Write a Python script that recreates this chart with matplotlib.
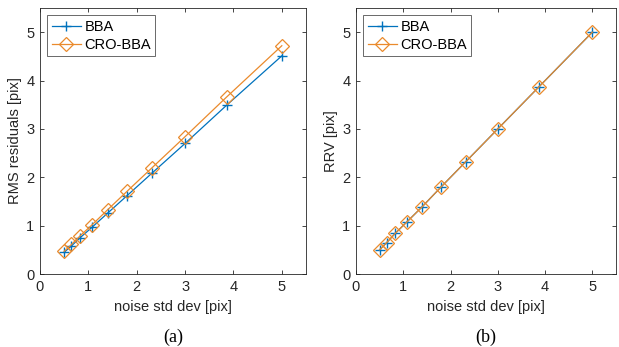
import matplotlib
matplotlib.use("Agg")
import matplotlib.pyplot as plt

noise = [0.5, 0.65, 0.83, 1.08, 1.4, 1.8, 2.32, 3.0, 3.87, 5.0]
rms_bba = [0.45, 0.58, 0.75, 0.97, 1.26, 1.62, 2.09, 2.70, 3.50, 4.51]
rms_cro = [0.47, 0.61, 0.79, 1.02, 1.33, 1.71, 2.20, 2.84, 3.67, 4.72]
rrv_bba = [0.50, 0.65, 0.84, 1.08, 1.39, 1.80, 2.32, 3.00, 3.87, 5.00]
rrv_cro = [0.50, 0.65, 0.84, 1.08, 1.39, 1.80, 2.32, 3.00, 3.87, 5.00]
ticks = [0, 1, 2, 3, 4, 5]
ylabels = ["RMS residuals [pix]", "RRV [pix]"]
captions = ["(a)", "(b)"]

blue = "#0072BD"
orange = "#EA8A2C"

plt.rcParams['font.family'] = ['Liberation Sans', 'DejaVu Sans']
fig = plt.figure(figsize=(6.19, 3.47), dpi=100)
W, H = 619, 347
boxes = [(40, 8, 306, 274), (356, 8, 616, 274)]
data = [(rms_bba, rms_cro), (rrv_bba, rrv_cro)]

for i, (l, t, r, b) in enumerate(boxes):
    ax = fig.add_axes([l / W, 1 - b / H, (r - l) / W, (b - t) / H])
    yb, yc = data[i]
    ax.plot(noise, yb, color=blue, lw=0.9, marker='+', ms=7, mew=1.0, label='BBA', zorder=2)
    ax.plot(noise, yc, color=orange, lw=0.9, marker='D', ms=7.2, mfc='none', mew=0.9,
            label='CRO-BBA', zorder=3)
    ax.set_xlim(0, 5.5)
    ax.set_ylim(0, 5.5)
    ax.set_xticks(ticks)
    ax.set_yticks(ticks)
    ax.tick_params(direction='in', length=3, width=0.6, labelsize=10.5, colors='#262626',
                   top=True, right=True, pad=4)
    for s in ax.spines.values():
        s.set_linewidth(0.6)
        s.set_color('#262626')
    ax.set_xlabel("noise std dev [pix]", fontsize=10.5, color='#262626', labelpad=5)
    ax.set_ylabel(ylabels[i], fontsize=10.5, color='#262626', labelpad=3)
    leg = ax.legend(loc='upper left', fontsize=10.5, frameon=True, fancybox=False,
                    borderpad=0.3, handlelength=2.0, handletextpad=0.25, labelspacing=0.3,
                    borderaxespad=0.5)
    leg.get_frame().set_edgecolor('#262626')
    leg.get_frame().set_linewidth(0.6)
    fig.text((l + r) / 2 / W, 1 - 337 / H, captions[i], ha='center', va='center',
             fontsize=13, family='Liberation Serif')

fig.savefig("out.png", dpi=100)
